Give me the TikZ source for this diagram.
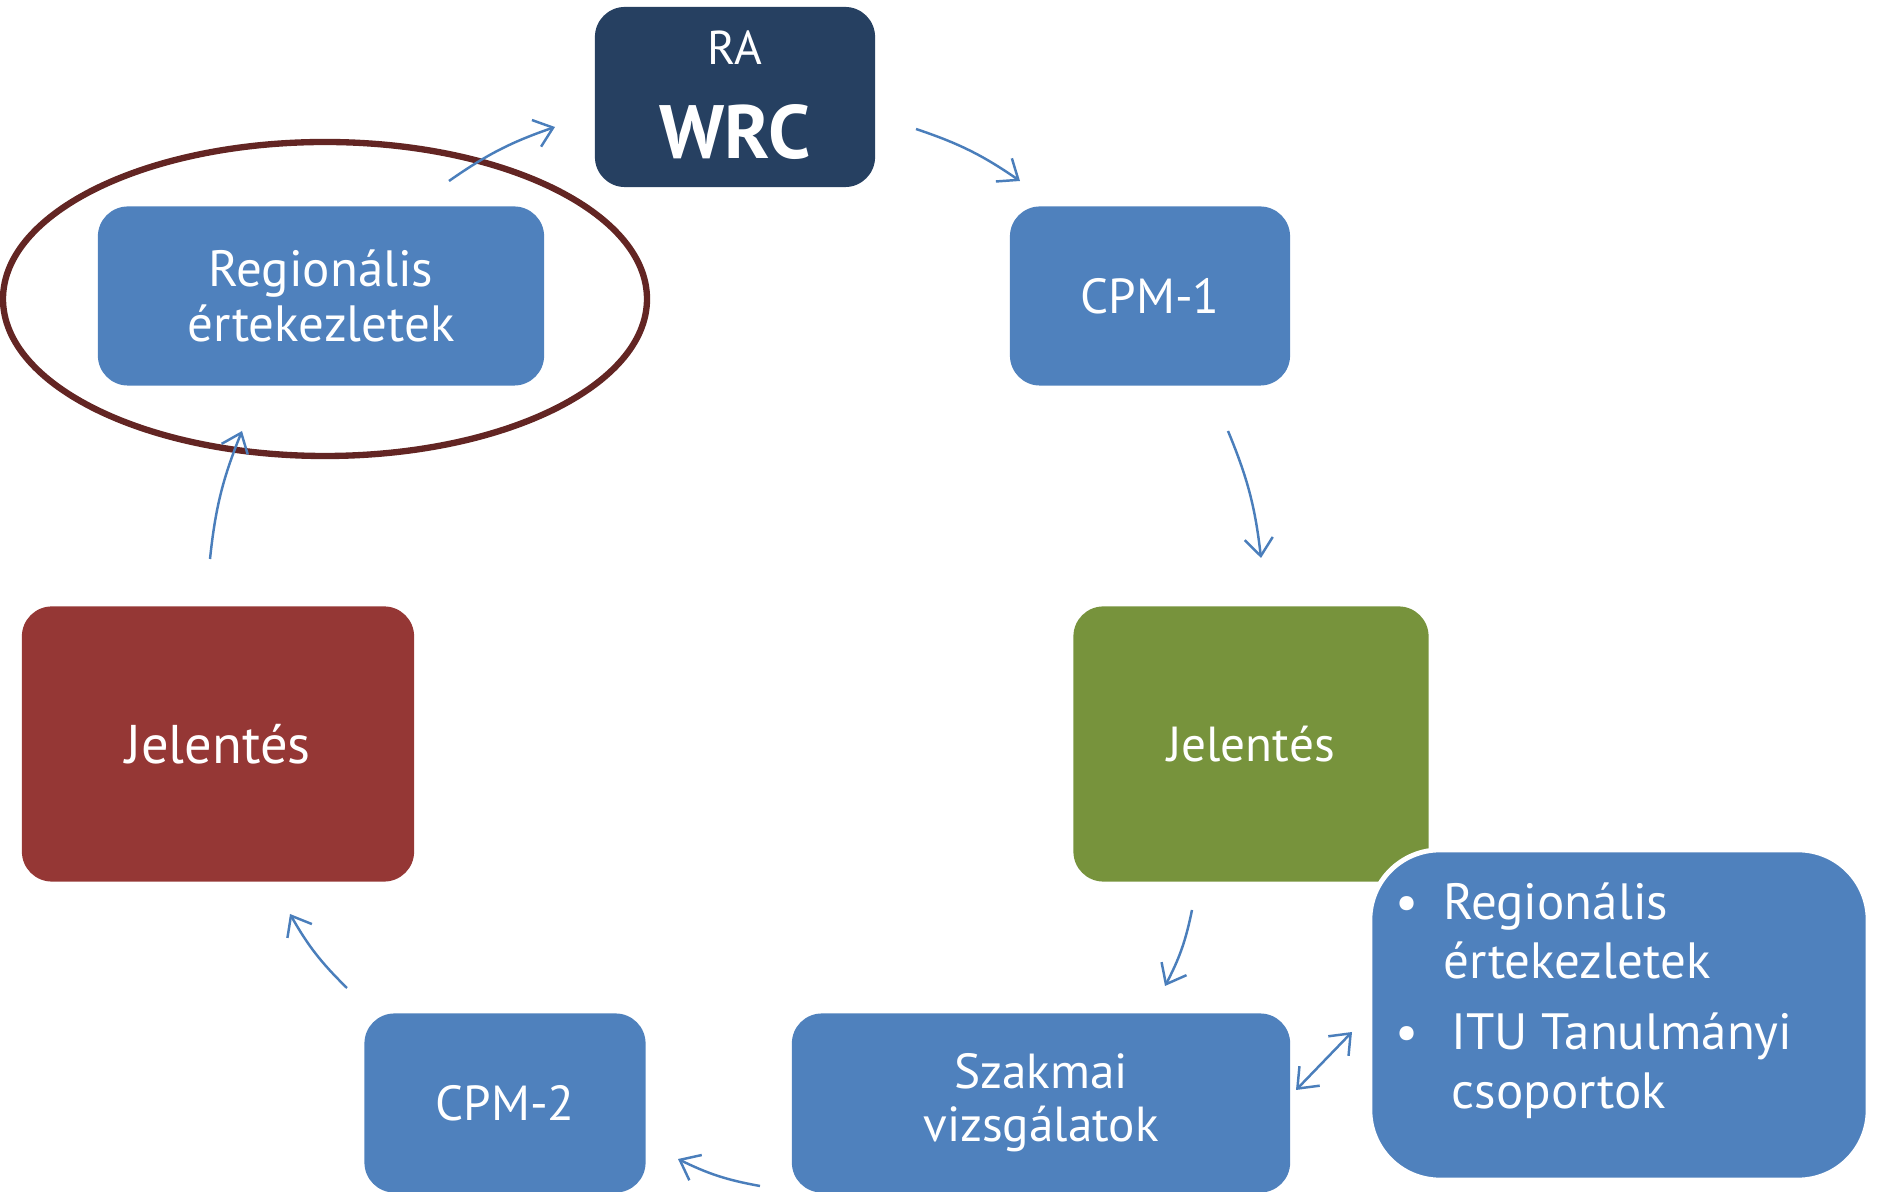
\documentclass[tikz,border=0pt]{standalone}
\usepackage{fontspec}
\setmainfont{PT Sans}
\usepackage{tikz}
\usetikzlibrary{arrows.meta}
\definecolor{navybox}{RGB}{38,64,97}
\definecolor{bluebox}{RGB}{79,129,189}
\definecolor{greenbox}{RGB}{119,147,60}
\definecolor{redbox}{RGB}{149,55,53}
\definecolor{ringred}{RGB}{99,37,35}
\definecolor{flowblue}{RGB}{74,126,187}

\begin{document}
\begin{tikzpicture}[x=0.01cm, y=-0.01cm,
    box/.style={fill=bluebox, rounded corners=0.3cm, text=white, align=center,
        font=\fontsize{14}{15}\selectfont, inner sep=0pt},
    flow/.style={draw=flowblue, line width=0.7pt, -{Straight Barb[length=5pt, width=8pt]}}]
    \useasboundingbox (0,0) rectangle (1878,1192);

    \node[box, fill=navybox, minimum width=2.8cm, minimum height=1.8cm] (wrc) at (735,97) {};
    \node[text=white, font=\fontsize{13.5}{14}\selectfont] (ra) at (735,48) {RA};
    \node[text=white, font=\fontsize{21.5}{23}\selectfont\bfseries] (wrcname) at (735,132) {WRC};

    \node[box, minimum width=4.46cm, minimum height=1.79cm,
        font=\fontsize{14.5}{15.5}\selectfont] (reg) at (321,296) {Regionális\\értekezletek};
    \draw[ringred, line width=1.8pt] (325,299) ellipse [x radius=322, y radius=157];

    \node[box, minimum width=2.8cm, minimum height=1.79cm] (cpmone) at (1150,296) {CPM-1};
    \node[box, fill=greenbox, minimum width=3.55cm, minimum height=2.75cm] (repgreen) at (1251,744) {Jelentés};
    \node[box, fill=redbox, minimum width=3.92cm, minimum height=2.75cm,
        font=\fontsize{15.5}{17}\selectfont] (repred) at (218,744) {Jelentés};
    \node[box, minimum width=2.81cm, minimum height=1.79cm] (cpmtwo) at (505,1103) {CPM-2};
    \node[box, minimum width=4.98cm, minimum height=1.79cm] (szak) at (1041,1103) {Szakmai\\vizsgálatok};

    \node[box, draw=white, line width=1.4pt, rounded corners=0.7cm,
        minimum width=4.98cm, minimum height=3.3cm] (itu) at (1619,1015) {};
    \node[text=white, inner sep=0pt, font=\fontsize{14.5}{17}\selectfont] (itutext) at (1594,1002)
        {\begin{tabular}{@{}l@{\hspace{7pt}}l@{}}
            \textbullet & Regionális\\
                        & értekezletek\\[3pt]
            \textbullet & \,ITU Tanulmányi\\
                        & \,csoportok
        \end{tabular}};

    \coordinate (wrc-out) at (916,129);
    \coordinate (cpmone-in) at (1020,181);
    \coordinate (cpmone-out) at (1228,431);
    \coordinate (repgreen-in) at (1261,558);
    \coordinate (repgreen-out) at (1192,910);
    \coordinate (szak-in) at (1165,986);
    \coordinate (szak-out) at (760,1186);
    \coordinate (cpmtwo-in) at (678,1159);
    \coordinate (cpmtwo-out) at (347,988);
    \coordinate (repred-in) at (290,914);
    \coordinate (repred-out) at (210,559);
    \coordinate (reg-in) at (242,431);
    \coordinate (reg-out) at (449,181);
    \coordinate (wrc-in) at (555,127);
    \coordinate (szak-side) at (1296,1090);
    \coordinate (itu-side) at (1352,1032);

    \foreach \s/\e in {wrc-out/cpmone-in, cpmone-out/repgreen-in, repgreen-out/szak-in,
        szak-out/cpmtwo-in, cpmtwo-out/repred-in, repred-out/reg-in, reg-out/wrc-in}
        \draw[flow] (\s) to[bend left=8] (\e);
    \draw[flow, {Straight Barb[length=5pt, width=8pt]}-{Straight Barb[length=5pt, width=8pt]}]
        (szak-side) -- (itu-side);

\end{tikzpicture}
\end{document}
